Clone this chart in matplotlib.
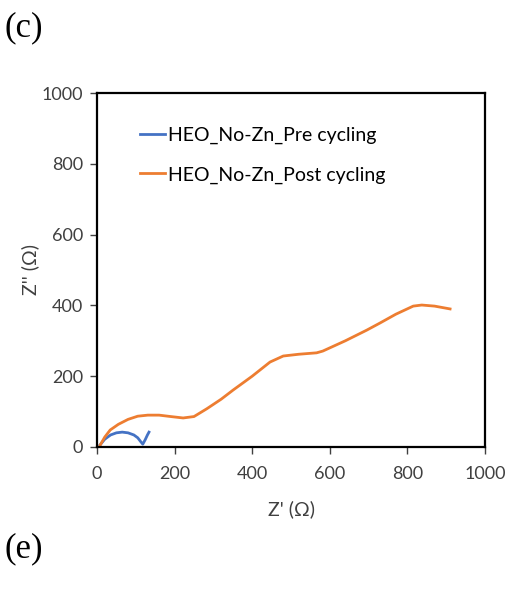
import matplotlib
matplotlib.use("Agg")
import matplotlib.pyplot as plt

# EIS data (Z' and Z'' in ohm)
pre_zre = [8, 20, 35, 50, 65, 80, 95, 105, 112, 118, 124, 130, 134]
pre_zim = [6, 22, 34, 40, 42, 40, 34, 26, 16, 8, 20, 34, 42]

post_zre = [8, 20, 34, 55, 80, 105, 131, 160, 190, 222, 250, 283, 320, 351,
            400, 446, 480, 520, 566, 582, 640, 695, 729, 770, 815, 837, 870, 910]
post_zim = [5, 28, 48, 64, 78, 87, 90, 90, 86, 82, 86, 108, 135, 161,
            200, 240, 257, 262, 266, 271, 300, 330, 350, 375, 398, 401, 398, 390]

x_ticks = [0, 200, 400, 600, 800, 1000]
y_ticks = [0, 200, 400, 600, 800, 1000]

sans = ['Lato', 'DejaVu Sans']

fig = plt.figure(figsize=(5.06, 5.89), dpi=100)
ax = fig.add_axes([0.1917, 0.2411, 0.7668, 0.601])

ax.plot(pre_zre, pre_zim, color='#4472C4', linewidth=2, label='HEO_No-Zn_Pre cycling')
ax.plot(post_zre, post_zim, color='#ED7D31', linewidth=2, label='HEO_No-Zn_Post cycling')

ax.set_xlim(0, 1000)
ax.set_ylim(0, 1000)
ax.set_xticks(x_ticks)
ax.set_yticks(y_ticks)
for lab in ax.get_xticklabels() + ax.get_yticklabels():
    lab.set_family(sans)
    lab.set_fontsize(13)
    lab.set_color('#404040')
ax.tick_params(direction='out', length=5, width=1, color='#404040')
ax.tick_params(axis='x', pad=9)
ax.tick_params(axis='y', pad=5)
for s in ax.spines.values():
    s.set_linewidth(1.6)
    s.set_color('black')

ax.set_xlabel("Z' (\u03a9)", family=sans, fontsize=14, color='#404040', labelpad=13)
ax.set_ylabel("Z'' (\u03a9)", family=sans, fontsize=14, color='#404040', labelpad=2)

leg = ax.legend(loc='upper left', bbox_to_anchor=(0.111, 0.905), frameon=False,
                borderpad=0, borderaxespad=0,
                handlelength=1.3, handletextpad=0.15, labelspacing=1.15,
                prop={'family': sans, 'size': 14})

fig.text(0.008, 0.952, '(c)', family='Liberation Serif', fontsize=25, va='center')
fig.text(0.008, 0.068, '(e)', family='Liberation Serif', fontsize=25, va='center')

fig.savefig('out.png', dpi=100)
